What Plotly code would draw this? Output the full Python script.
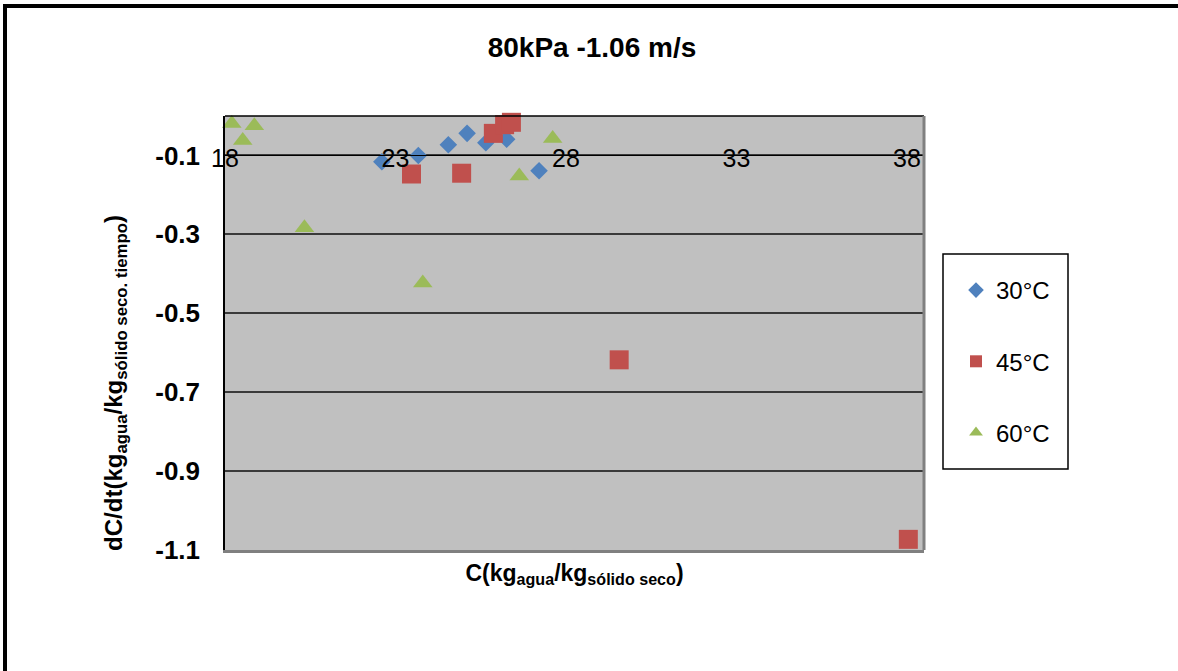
import plotly.graph_objects as go

# ---- data ----
c_30 = [22.6, 23.67, 24.55, 25.1, 25.65, 26.26, 27.21]
r_30 = [-0.116, -0.100, -0.073, -0.044, -0.068, -0.059, -0.139]

c_45 = [23.47, 24.94, 25.87, 26.2, 26.4, 29.56, 38.04]
r_45 = [-0.147, -0.145, -0.044, -0.022, -0.016, -0.618, -1.073]

c_60 = [18.2, 18.52, 18.86, 20.33, 23.8, 26.63, 27.61]
r_60 = [-0.019, -0.062, -0.025, -0.283, -0.423, -0.152, -0.057]

series_names = ["30°C", "45°C", "60°C"]
x_ticks = [18, 23, 28, 33, 38]
y_ticks = [-0.1, -0.3, -0.5, -0.7, -0.9, -1.1]
y_ticktext = ["-0.1", "-0.3", "-0.5", "-0.7", "-0.9", "-1.1"]

FONT = "Liberation Sans, Arial, sans-serif"
W, H = 1178, 671
L, R, T, B = 225, 254, 116, 121
PW, PH = W - L - R, H - T - B


def px_x(px):
    return (px - L) / PW


def px_y(py):
    return (H - B - py) / PH


fig = go.Figure()
fig.add_trace(go.Scatter(x=c_30, y=r_30, mode="markers", name=series_names[0],
                         legendgroup="a",
                         marker=dict(symbol="diamond", size=13.5, color="#4F81BD"),
                         cliponaxis=False))
fig.add_trace(go.Scatter(x=c_45, y=r_45, mode="markers", name=series_names[1],
                         legendgroup="b",
                         marker=dict(symbol="square", size=19, color="#C0504D"),
                         cliponaxis=False))
fig.add_trace(go.Scatter(x=c_60, y=r_60, mode="markers", name=series_names[2],
                         legendgroup="c",
                         marker=dict(symbol="triangle-up", size=17, color="#9BBB59"),
                         cliponaxis=False))
# empty helper trace so that the crossing x axis (at y = -0.1) is drawn
fig.add_trace(go.Scatter(x=x_ticks, y=[None] * len(x_ticks), xaxis="x2", yaxis="y",
                         mode="markers", showlegend=False, hoverinfo="skip"))

x_title = "<b>C(kg<sub>agua</sub>/kg<sub>sólido seco</sub>)</b>"
y_title = ("<b>dC/dt(kg<sub>agua</sub>/kg<sub>sólido seco. tiempo</sub>)"
           + "\u00a0" * 15 + "\u200b</b>")

fig.update_layout(
    width=W, height=H,
    margin=dict(l=L, r=R, t=T, b=B, autoexpand=False),
    paper_bgcolor="white",
    plot_bgcolor="#C0C0C0",
    font=dict(family=FONT, color="black"),
    title=dict(text="<b>80kPa -1.06 m/s</b>", font=dict(size=28, family=FONT),
               x=px_x(592), xref="paper", xanchor="center",
               y=1 - 47 / H, yref="container", yanchor="middle"),
    xaxis=dict(range=[18, 38.5], showticklabels=False, ticks="", showgrid=False,
               zeroline=False, showline=True, linecolor="#808080", linewidth=3,
               automargin=False,
               title=dict(text=x_title, font=dict(size=23, family=FONT), standoff=13)),
    xaxis2=dict(overlaying="x", matches="x", anchor="free", position=1.0 / 1.1,
                side="bottom", tickvals=x_ticks, ticktext=[str(v) for v in x_ticks],
                ticks="", showgrid=False, zeroline=False, showline=True,
                linecolor="black", linewidth=1, ticklabelstandoff=-19,
                tickfont=dict(size=25, family=FONT, color="black"), automargin=False),
    yaxis=dict(range=[-1.1, 0], tickvals=y_ticks, ticktext=y_ticktext, ticks="",
               showgrid=True, gridcolor="#3a3a3a", gridwidth=1.5, zeroline=False,
               showline=True, linecolor="black", linewidth=1.5,
               ticklabelstandoff=18,
               tickfont=dict(size=26, family=FONT, color="black", weight="bold"),
               automargin=False,
               title=dict(text=y_title, font=dict(size=24, family=FONT), standoff=26)),
    legend=dict(x=px_x(956), y=px_y(268), xanchor="left", yanchor="top",
                bgcolor="rgba(0,0,0,0)", borderwidth=0, tracegroupgap=37,
                font=dict(size=24, family=FONT, color="black"), itemsizing="constant"),
    showlegend=True,
)

shapes = [
    # plot area top (black) and right (gray) borders
    dict(type="line", xref="paper", yref="paper", x0=0, x1=1, y0=1, y1=1,
         line=dict(color="black", width=1.5)),
    dict(type="line", xref="paper", yref="paper", x0=1, x1=1, y0=0, y1=1,
         line=dict(color="#808080", width=3)),
    # legend box
    dict(type="rect", xref="paper", yref="paper",
         x0=px_x(943), x1=px_x(1068), y0=px_y(469), y1=px_y(254),
         line=dict(color="black", width=1.5)),
    # outer chart frame (top and left only)
    dict(type="line", xref="paper", yref="paper",
         x0=px_x(3), x1=px_x(W), y0=px_y(6), y1=px_y(6),
         line=dict(color="black", width=4)),
    dict(type="line", xref="paper", yref="paper",
         x0=px_x(5), x1=px_x(5), y0=px_y(4), y1=px_y(H + 5),
         line=dict(color="black", width=4)),
]
fig.update_layout(shapes=shapes)

fig.write_html("out.html",
               config={"displayModeBar": False},
               post_script="document.body.style.margin='0';"
                           "document.body.style.overflow='hidden';")
